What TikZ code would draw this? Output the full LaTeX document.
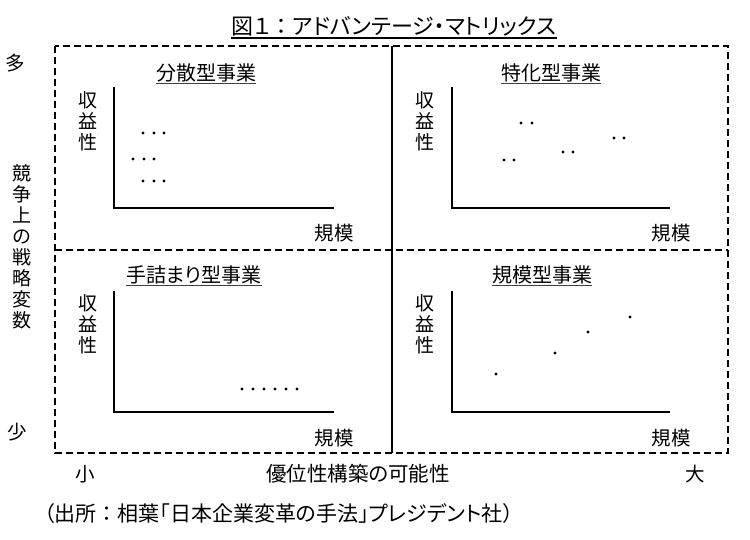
\documentclass[tikz,border=0pt]{standalone}
\usepackage{fontspec}
\setmainfont{Noto Sans CJK JP}[RawFeature=+palt]
\newcommand{\fwcolon}{{\addfontfeatures{RawFeature=-palt}：}}
\begin{document}
\begin{tikzpicture}[x=1pt,y=-1pt,
  txt/.style={inner sep=0pt,font=\fontsize{19.5}{21}\selectfont},
  vtxt/.style={inner sep=0pt,align=center,font=\fontsize{19}{21}\selectfont},
  qtitle/.style={inner sep=0pt,font=\fontsize{20}{22}\selectfont},
  uline/.style={line width=0.9pt,black!75},
  axis/.style={line width=1.6pt,line cap=rect},
  border/.style={line width=1.5pt,dash pattern=on 7pt off 4pt},
  dotn/.style={circle,fill=black,inner sep=0pt,minimum size=3.4pt},
]
\useasboundingbox (0,0) rectangle (750,540);

% title
\node[inner sep=0pt,font=\fontsize{22}{24}\selectfont] (title) at (394,26) {図１\fwcolon アドバンテージ・マトリックス};
\draw[line width=1.5pt] ([yshift=-2pt]title.south west) -- ([yshift=-2pt]title.south east);

% frame
\coordinate (tl) at (55,46);
\coordinate (br) at (728,453);
\coordinate (ml) at (55,250);
\coordinate (mr) at (728,250);
\coordinate (mt) at (392,46);
\coordinate (mb) at (392,453);
\draw[border] (tl) rectangle (br);
\draw[border] (ml) -- (mr);
\draw[line width=1.3pt] (mt) -- (mb);

% left labels
\node[txt] (many) at (15,63) {多};
\node[txt] (few) at (17,432) {少};
\node[vtxt] (yl) at (22,246.5) {競\\争\\上\\の\\戦\\略\\変\\数};

% bottom labels
\node[txt] (small) at (85,474) {小};
\node[txt,font=\fontsize{20.5}{22}\selectfont] (xl) at (358,474) {優位性構築の可能性};
\node[txt] (big) at (695,474) {大};

% caption
\node[txt,anchor=west,font=\fontsize{21}{23}\selectfont] (src) at (44,514) {（出所\fwcolon 相葉「日本企業変革の手法」プレジデント社）};

% quadrant titles
\node[qtitle] (t1) at (206,73) {分散型事業};
\node[qtitle] (t2) at (551,73) {特化型事業};
\node[qtitle] (t3) at (194,275) {手詰まり型事業};
\node[qtitle] (t4) at (542,275) {規模型事業};
\foreach \t in {t1,t2,t3,t4}
  \draw[uline] ([yshift=-1.2pt]\t.south west) -- ([yshift=-1.2pt]\t.south east);

% y-axis labels
\node[vtxt] (y1) at (88,121) {収\\益\\性};
\node[vtxt] (y2) at (425,121) {収\\益\\性};
\node[vtxt] (y3) at (88,324) {収\\益\\性};
\node[vtxt] (y4) at (425,324) {収\\益\\性};

% x-axis labels
\node[txt] (x1) at (334,233) {規模};
\node[txt] (x2) at (671,233) {規模};
\node[txt] (x3) at (334,438) {規模};
\node[txt] (x4) at (671,438) {規模};

% axes
\coordinate (a1t) at (114,88);  \coordinate (a1o) at (114,208); \coordinate (a1r) at (333,208);
\coordinate (a2t) at (452,88);  \coordinate (a2o) at (452,208); \coordinate (a2r) at (669,208);
\coordinate (a3t) at (114,292); \coordinate (a3o) at (114,412); \coordinate (a3r) at (333,412);
\coordinate (a4t) at (452,292); \coordinate (a4o) at (452,412); \coordinate (a4r) at (669,412);
\foreach \q in {1,2,3,4}
  \draw[axis] (a\q t) -- (a\q o) -- (a\q r);

% dots quadrant 1
\foreach \x/\y in {143/133,154/133,164/133,133/159,144/159,154/159,143/181,154/181,164/181}
  \node[dotn] at (\x,\y) {};
% dots quadrant 2
\foreach \x/\y in {521/123,532/123,504/160,514/160,563/152,573/152,614/138,624/138}
  \node[dotn] at (\x,\y) {};
% dots quadrant 3
\foreach \x in {242,253,264,275,286,297}
  \node[dotn] at (\x,389) {};
% dots quadrant 4
\foreach \x/\y in {496/374,555/353,588/332,630/317}
  \node[dotn] at (\x,\y) {};
\end{tikzpicture}
\end{document}
